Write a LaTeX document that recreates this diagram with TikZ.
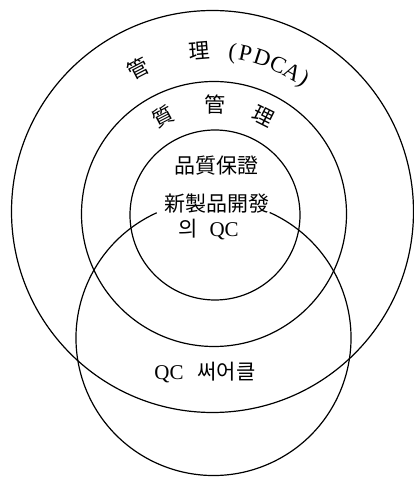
\documentclass[tikz,border=0pt]{standalone}
\usepackage{fontspec}
\setmainfont{Liberation Serif}
\newfontfamily\kr{Noto Sans CJK KR}
\usetikzlibrary{calc}
\begin{document}
\begin{tikzpicture}[x=1pt,y=1pt,
  ring/.style={line width=1.2pt, black},
  krfont/.style={font=\kr\fontsize{21}{24}\selectfont},
  latfont/.style={font=\fontsize{21}{24}\selectfont},
  arckr/.style={anchor=base, inner sep=0pt, krfont},
  arclat/.style={anchor=base, inner sep=0pt, font=\fontsize{23}{26}\selectfont},
  label/.style={inner sep=0pt, krfont}]
\useasboundingbox (0,0) rectangle (414,477);
\coordinate (oc) at (212.5,265.5);
\coordinate (mc) at (214,263);
\coordinate (ic) at (215,262);
\coordinate (qc) at (213.5,139);
% circles
\draw[ring] (oc) circle[radius=201];
\draw[ring] (mc) circle[radius=132.5];
\draw[ring] (ic) circle[radius=85];
\draw[ring] ($(qc)+(114.4:137.5)$) arc[start angle=114.4, end angle=425.9, radius=137.5];
% outer arc text
\foreach \a/\t [count=\i] in {117.6/管, 94.5/理}{
  \pgfmathsetmacro\rot{\a-90}
  \node[arckr, rotate=\rot] (ok\i) at ($(oc)+(\a:153.5)$) {\t};
}
\foreach \a/\t [count=\i] in {82.8/(, 78.2/P, 72.0/D, 65.9/C, 60.3/A, 55.4/)}{
  \pgfmathsetmacro\rot{\a-90}
  \node[arclat, rotate=\rot] (ol\i) at ($(oc)+(\a:153.5)$) {\t};
}
% middle arc text
\foreach \a/\t [count=\i] in {117.5/質, 89.5/管, 63.3/理}{
  \pgfmathsetmacro\rot{\a-90}
  \node[arckr, rotate=\rot] (mk\i) at ($(mc)+(\a:101.5)$) {\t};
}
% inner texts
\node[label] (t1) at (216.7,311.2) {品質保證};
\node[label] (t2) at (216.5,273) {新製品開發};
\node[inner sep=0pt, latfont] (t3) at (208.5,247.5) {{\kr\fontsize{21}{24}\selectfont 의}\hspace{12pt}QC};
\node[inner sep=0pt, latfont] (t4) at (205,104) {QC\hspace{14pt}{\kr\fontsize{21}{24}\selectfont 써어클}};
\end{tikzpicture}
\end{document}
